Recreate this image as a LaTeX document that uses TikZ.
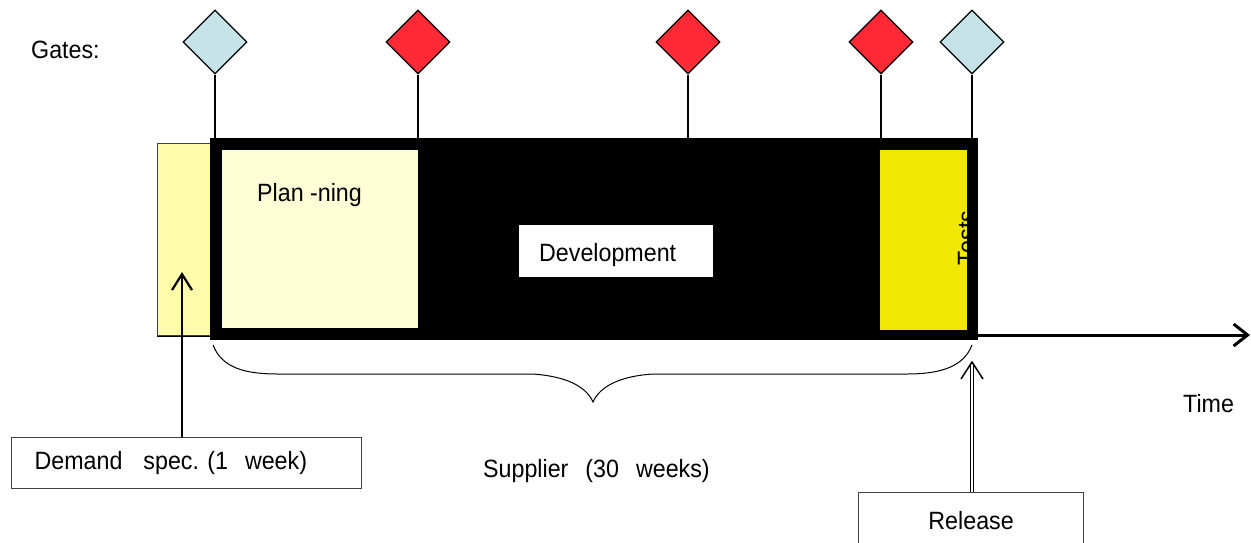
\documentclass[tikz,border=0pt]{standalone}
\usepackage{fontspec}
\setmainfont[FakeStretch=0.93]{Liberation Sans}
\usetikzlibrary{shapes.geometric,arrows.meta}
\definecolor{gateblue}{HTML}{C5E3E6}
\definecolor{gatered}{HTML}{FF2A35}
\definecolor{demandyellow}{HTML}{FFFBA8}
\definecolor{planfill}{HTML}{FFFED6}
\definecolor{testsfill}{HTML}{F0E800}
\definecolor{boxline}{HTML}{404040}
\tikzset{
  gate/.style={diamond, aspect=1, draw=black, line width=1.3pt, minimum width=64pt, minimum height=64pt, inner sep=0pt},
  stem/.style={draw=black, line width=1.4pt},
  block/.style={inner sep=0pt, anchor=north west},
  lbl/.style={inner sep=0pt, font=\fontsize{25}{30}\selectfont},
  labelbox/.style={draw=boxline, line width=1.2pt, fill=white, anchor=north west, inner ysep=0pt, font=\fontsize{25}{30}\selectfont},
  axisline/.style={line width=3pt, -{Straight Barb[length=14pt, width=22pt, line width=3pt]}},
  darrow/.style={line width=2.8pt, -{Straight Barb[length=16pt, width=20pt, line width=2.2pt]}},
  rshaft/.style={double=white, double distance=1.6pt, line width=1.1pt},
  rhead/.style={line width=1.5pt, line join=miter},
  bracepath/.style={line width=1pt, draw=black}
}
\begin{document}
\begin{tikzpicture}[x=1pt, y=-1pt]
\useasboundingbox (0,0) rectangle (1251,542);
\clip (0,0) rectangle (1251,542);
\fill[white] (0,0) rectangle (1251,542);

% Gates label
\node[lbl, anchor=west] (gates) at (31,50) {Gates:};

% gates
\node[gate, fill=gateblue] (g1) at (215,42) {};
\node[gate, fill=gatered] (g2) at (418,42) {};
\node[gate, fill=gatered] (g3) at (688,42) {};
\node[gate, fill=gatered] (g4) at (881,42) {};
\node[gate, fill=gateblue] (g5) at (972,42) {};

% axis
\coordinate (axstart) at (157,335);
\coordinate (axend) at (1250,335);
\draw[axisline] (axstart) -- (axend);

% demand yellow block
\node[block, fill=demandyellow, draw=boxline, line width=1pt, minimum width=53pt, minimum height=192pt] (demblock) at (157,143) {};

% black bar
\node[block, fill=black, minimum width=768pt, minimum height=202pt] (bar) at (210,138) {};
\node[block, fill=planfill, minimum width=196pt, minimum height=178pt] (plan) at (222,150) {};
\node[block, fill=testsfill, minimum width=87pt, minimum height=180pt] (tests) at (880,150) {};
\node[block, fill=white, minimum width=194pt, minimum height=52pt] (devbox) at (519,225) {};

% stems
\foreach \g in {g1,g2,g3,g4,g5} {
  \draw[stem] (\g.south) -- (\g.south |- bar.north);
}

% texts in the bar
\node[lbl, anchor=base west] (plantext) at (257,201) {Plan -ning};
\node[lbl, anchor=base west] (devtext) at (539,261) {Development};
\node[lbl, anchor=base, rotate=90] (teststext) at (975,238) {Tests};

% brace
\draw[bracepath] (213,345) .. controls (222,368) and (245,374) .. (278,374) -- (532,374)
  .. controls (565,376) and (586,386) .. (593,402)
  .. controls (600,386) and (621,376) .. (653,374) -- (907,374)
  .. controls (942,374) and (964,366) .. (972,345);

% labels
\node[lbl, anchor=base west] (supplier) at (483,477) {Supplier\hspace{17pt}(30\hspace{17pt}weeks)};
\node[lbl, anchor=base west] (time) at (1183,412) {Time};

% demand spec box
\node[labelbox, minimum width=350pt, minimum height=51pt, text width=350pt, inner xsep=0pt, align=left] (demand) at (11,437) {\hspace*{23pt}Demand\hspace{21pt}spec.\ (1\hspace{17pt}week)};
\coordinate (dtip) at (182,272);
\draw[darrow] (dtip |- demand.north) -- (dtip);

% release box
\node[labelbox, minimum width=225pt, minimum height=56pt, inner xsep=0pt] (release) at (858,492) {Release};
\coordinate (rtip) at (972,362);
\draw[rshaft] (rtip |- release.north) -- ([yshift=-1.5pt]rtip);
\draw[rhead] ([shift={(-11,17)}]rtip) -- (rtip) -- ([shift={(11,17)}]rtip);
\end{tikzpicture}
\end{document}
